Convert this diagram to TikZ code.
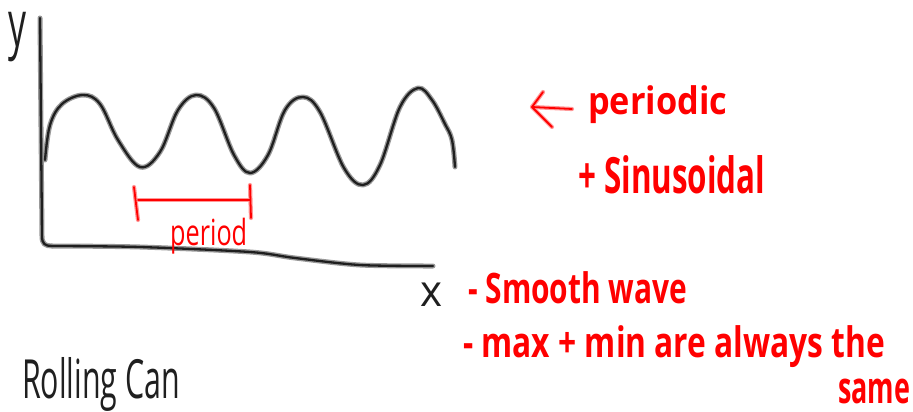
\documentclass[tikz,border=0pt]{standalone}
\usepackage{fontspec}
\setmainfont{Open Sans}
\newcommand\fitw[2]{\resizebox{#1}{\height}{#2}}
\begin{document}
\begin{tikzpicture}[x=1pt,y=-1pt,
  hand/.style={line width=2.3pt, black!88, line cap=round, line join=round},
  halo/.style={line width=5pt, black!40, line cap=round, line join=round},
  rhand/.style={line width=1.8pt, red, line cap=round, line join=round},
  rhalo/.style={line width=4.2pt, red!40, line cap=round, line join=round},
  rtext/.style={red, inner sep=0pt, anchor=base west, font=\bfseries},
  ktext/.style={black!88, inner sep=0pt, anchor=base west}]
\useasboundingbox (0,0) rectangle (913,412);
% axes
\coordinate (ytop) at (40,18);
\coordinate (corner) at (42,236);
\coordinate (xstart) at (52,246);
\foreach \s in {halo,hand}{
  \draw[\s] (ytop) -- (corner) .. controls (42,244) and (45,246) .. (xstart);
  \draw[\s] plot[smooth, tension=0.5] coordinates {(52,246) (140,247) (250,252) (295,258) (360,265) (433,266)};
  % wave
  \draw[\s] plot[smooth, tension=0.6] coordinates {(45,160) (50,125) (62,104) (83,95) (100,104) (118,140) (140,167) (160,152) (178,110) (196,95) (214,108) (234,155) (250,173) (268,155) (285,110) (303,97) (320,112) (344,168) (363,185) (380,165) (400,107) (418,88) (432,100) (445,124) (452,140) (455,167)};
}
% period bracket
\coordinate (pl) at (138,200);
\coordinate (pr) at (250,200);
\foreach \s in {rhalo,rhand}{
  \draw[\s] (pl) -- (pr);
  \draw[\s] (134,187) -- (138,220);
  \draw[\s] (250,185) -- (251,218);
}
\node[rtext, font=\mdseries] (period) at (170,245) {\fitw{77pt}{\fontsize{36}{38}\selectfont period}};
% axis labels
\node[ktext] (ylab) at (8,47) {\fitw{18pt}{\fontsize{64}{66}\selectfont y}};
\node[ktext] (xlab) at (420,306) {\fitw{22pt}{\fontsize{44}{46}\selectfont x}};
% arrow
\coordinate (atip) at (532,107);
\coordinate (atail) at (572,109);
\foreach \s in {rhalo,rhand}{
  \draw[\s] (atail) -- (atip);
  \draw[\s] (543,92) -- (atip) -- (552,127);
}
\node[rtext] (periodic) at (588,114) {\fitw{139pt}{\fontsize{38}{40}\selectfont periodic}};
\node[rtext] (sinus) at (578,193) {\fitw{187pt}{\fontsize{50}{52}\selectfont + Sinusoidal}};
\node[rtext] (smooth) at (468,303) {\fitw{219pt}{\fontsize{42}{44}\selectfont - Smooth wave}};
\node[rtext] (maxmin) at (463,357) {\fitw{422pt}{\fontsize{42}{44}\selectfont - max + min are always the}};
\node[rtext] (same) at (838,403) {\fitw{72pt}{\fontsize{44}{46}\selectfont same}};
\node[ktext] (title) at (22,398) {\fitw{158pt}{\fontsize{54}{56}\selectfont Rolling Can}};
\end{tikzpicture}
\end{document}
